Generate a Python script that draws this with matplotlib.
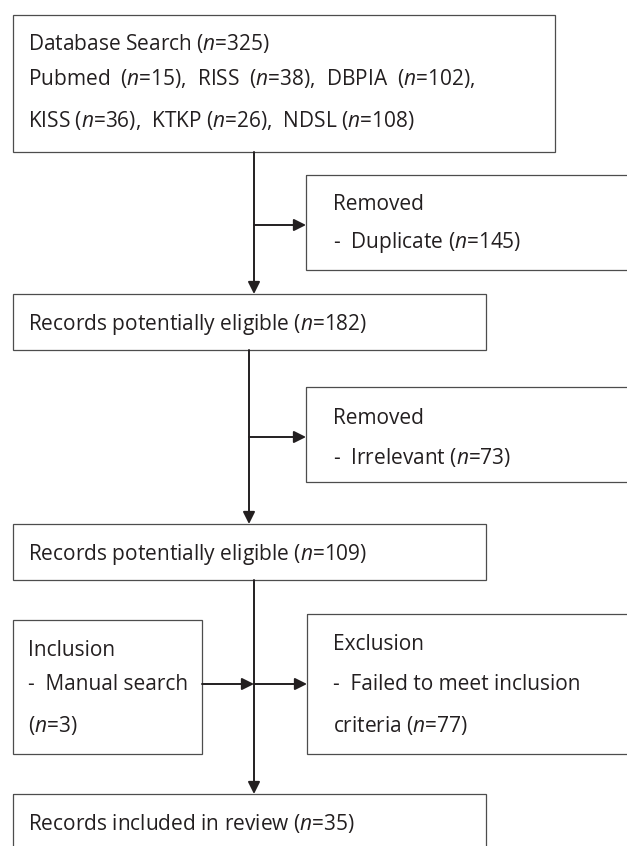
import matplotlib.pyplot as plt
from matplotlib.patches import Rectangle

# counts shown in the flow chart
total_found = 325
db_names = ["Pubmed", "RISS", "DBPIA", "KISS", "KTKP", "NDSL"]
db_counts = [15, 38, 102, 36, 26, 108]
n_duplicate = 145
n_eligible_1 = 182
n_irrelevant = 73
n_eligible_2 = 109
n_manual = 3
n_failed = 77
n_included = 35

plt.rcParams['font.family'] = ['Open Sans', 'DejaVu Sans']
plt.rcParams['mathtext.fontset'] = 'custom'
plt.rcParams['mathtext.rm'] = 'Open Sans'
plt.rcParams['mathtext.it'] = 'Open Sans:italic'

BOX_COLOR = '#4d4d4d'
ARROW_COLOR = '#231f20'
TEXT_COLOR = '#231f20'
FS = 15


def n(v):
    return "($n$=%d)" % v


def box(ax, x0, y0, x1, y1):
    ax.add_patch(Rectangle((x0, y0), x1 - x0, y1 - y0, fill=False,
                           edgecolor=BOX_COLOR, linewidth=0.9))


def label(ax, x, y, s):
    # y is the visual middle of the line, text is placed on its baseline
    ax.text(x, y + 8, s, fontsize=FS, color=TEXT_COLOR, ha='left', va='baseline')


def arrow(ax, start, end):
    ax.annotate('', xy=end, xytext=start,
                arrowprops=dict(arrowstyle='-|>', color=ARROW_COLOR, lw=1.4,
                                mutation_scale=18, shrinkA=0, shrinkB=0))


fig = plt.figure(figsize=(6.27, 8.46), dpi=100)
ax = fig.add_axes([0, 0, 1, 1])
ax.set_xlim(0, 627)
ax.set_ylim(846, 0)
ax.axis('off')

# boxes
box(ax, 13, 15, 555, 152)
box(ax, 306, 175, 660, 270)
box(ax, 13, 294, 486, 350)
box(ax, 306, 387, 660, 482)
box(ax, 13, 524, 486, 580)
box(ax, 13, 620, 202, 754)
box(ax, 307, 614, 660, 754)
box(ax, 13, 794, 486, 880)

# texts
line2 = "  ".join("%s  %s," % (name, n(c)) for name, c in zip(db_names[:3], db_counts[:3]))
line3 = ",  ".join("%s %s" % (name, n(c)) for name, c in zip(db_names[3:], db_counts[3:]))
label(ax, 28, 42, "Database Search " + n(total_found))
label(ax, 28, 77, line2)
label(ax, 28, 119, line3)

label(ax, 333, 202, "Removed")
label(ax, 333, 240, "-  Duplicate " + n(n_duplicate))

label(ax, 28, 322, "Records potentially eligible " + n(n_eligible_1))

label(ax, 333, 416, "Removed")
label(ax, 333, 456, "-  Irrelevant " + n(n_irrelevant))

label(ax, 28, 552, "Records potentially eligible " + n(n_eligible_2))

label(ax, 28, 648, "Inclusion")
label(ax, 28, 682, "-  Manual search")
label(ax, 28, 724, n(n_manual))

label(ax, 333, 642, "Exclusion")
label(ax, 333, 682, "-  Failed to meet inclusion")
label(ax, 333, 724, "criteria " + n(n_failed))

label(ax, 28, 822, "Records included in review " + n(n_included))

# arrows
arrow(ax, (254, 152), (254, 294))
arrow(ax, (254, 225), (306, 225))
arrow(ax, (249, 350), (249, 524))
arrow(ax, (249, 437), (306, 437))
arrow(ax, (254, 580), (254, 794))
arrow(ax, (202, 684), (254, 684))
arrow(ax, (254, 684), (307, 684))

fig.savefig("out.png", dpi=100, facecolor='white')
